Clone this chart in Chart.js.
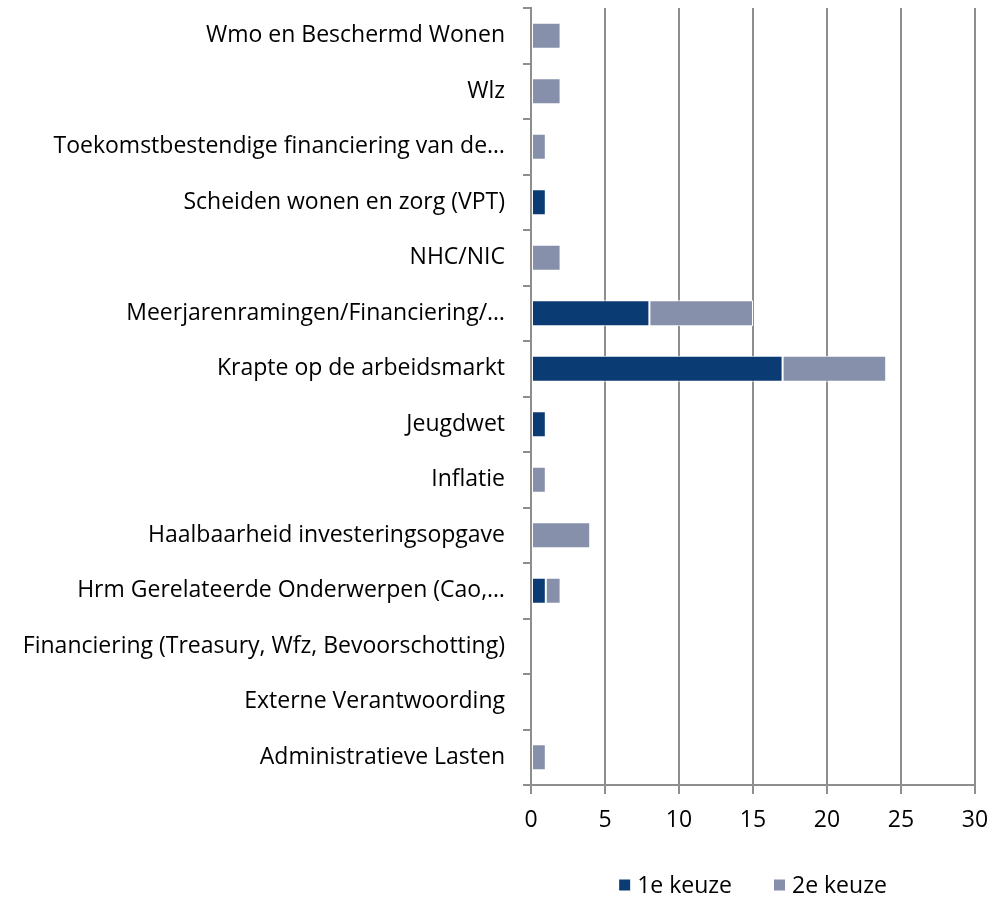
<!DOCTYPE html>
<html>
<head>
<meta charset="utf-8">
<script src="https://cdn.jsdelivr.net/npm/chart.js@4.4.1/dist/chart.umd.min.js"></script>
<style>
  html, body { margin: 0; padding: 0; background: #fff; }
  #wrap { width: 992px; height: 898px; }
</style>
</head>
<body>
<div id="wrap"><canvas id="chart" width="992" height="898"></canvas></div>
<script>
const categories = [
  'Wmo en Beschermd Wonen',
  'Wlz',
  'Toekomstbestendige financiering van de\u2026',
  'Scheiden wonen en zorg (VPT)',
  'NHC/NIC',
  'Meerjarenramingen/Financiering/\u2026',
  'Krapte op de arbeidsmarkt',
  'Jeugdwet',
  'Inflatie',
  'Haalbaarheid investeringsopgave',
  'Hrm Gerelateerde Onderwerpen (Cao,\u2026',
  'Financiering (Treasury, Wfz, Bevoorschotting)',
  'Externe Verantwoording',
  'Administratieve Lasten'
];
const keuze1 = [0, 0, 0, 1, 0, 8, 17, 1, 0, 0, 1, 0, 0, 0];
const keuze2 = [2, 2, 1, 0, 2, 7, 7, 0, 1, 4, 1, 0, 0, 1];
const xTicks = [0, 5, 10, 15, 20, 25, 30];

const FONT = '"Open Sans", "DejaVu Sans", sans-serif';
const FONT_SIZE = 23;
const gridColor = '#8e8e8e';

// legend centred under the plot area, like the original
const legendPlugin = {
  id: 'bottomLegend',
  afterDraw(chart) {
    const ctx = chart.ctx;
    const area = chart.chartArea;
    ctx.save();
    ctx.font = FONT_SIZE + 'px ' + FONT;
    ctx.textBaseline = 'middle';
    const box = 11, gapText = 7, gapItem = 42;
    const items = chart.data.datasets.map(ds => ({
      label: ds.label, color: ds.backgroundColor, w: ctx.measureText(ds.label).width
    }));
    let total = 0;
    items.forEach((it, i) => { total += box + gapText + it.w + (i ? gapItem : 0); });
    let x = (area.left + area.right) / 2 - total / 2;
    const y = 885;
    items.forEach(it => {
      ctx.fillStyle = it.color;
      ctx.fillRect(x, y - box / 2, box, box);
      ctx.fillStyle = '#000';
      ctx.fillText(it.label, x + box + gapText, y + 1);
      x += box + gapText + it.w + gapItem;
    });
    ctx.restore();
  }
};

new Chart(document.getElementById('chart'), {
  type: 'bar',
  data: {
    labels: categories,
    datasets: [
      {
        label: '1e keuze',
        data: keuze1,
        backgroundColor: '#0b3b73',
        borderColor: '#ffffff',
        borderWidth: 1,
        borderSkipped: false,
        categoryPercentage: 0.5,
        barPercentage: 0.94
      },
      {
        label: '2e keuze',
        data: keuze2,
        backgroundColor: '#8790ab',
        borderColor: '#ffffff',
        borderWidth: 1,
        borderSkipped: false,
        categoryPercentage: 0.5,
        barPercentage: 0.94
      }
    ]
  },
  options: {
    indexAxis: 'y',
    responsive: false,
    animation: false,
    layout: { padding: { top: 8, right: 17, bottom: 60, left: 0 } },
    plugins: {
      legend: { display: false },
      tooltip: { enabled: false }
    },
    scales: {
      x: {
        stacked: true,
        min: 0,
        max: 30,
        afterBuildTicks(scale) { scale.ticks = xTicks.map(v => ({ value: v })); },
        afterFit(scale) { scale.height = 53; scale.paddingLeft = 0; scale.paddingRight = 0; },
        grid: {
          color: gridColor,
          lineWidth: 2,
          tickLength: 9,
          drawTicks: true
        },
        border: { display: true, color: gridColor, width: 2 },
        ticks: {
          color: '#000',
          padding: 13,
          font: { family: FONT, size: FONT_SIZE }
        }
      },
      y: {
        stacked: true,
        afterFit(scale) { scale.width = 531; scale.paddingTop = 0; scale.paddingBottom = 0; },
        grid: {
          display: true,
          drawOnChartArea: false,
          color: gridColor,
          lineWidth: 2,
          tickLength: 8,
          offset: true
        },
        border: { display: true, color: gridColor, width: 2 },
        ticks: {
          color: '#000',
          padding: 18,
          autoSkip: false,
          font: { family: FONT, size: FONT_SIZE }
        }
      }
    }
  },
  plugins: [legendPlugin]
});
</script>
</body>
</html>
